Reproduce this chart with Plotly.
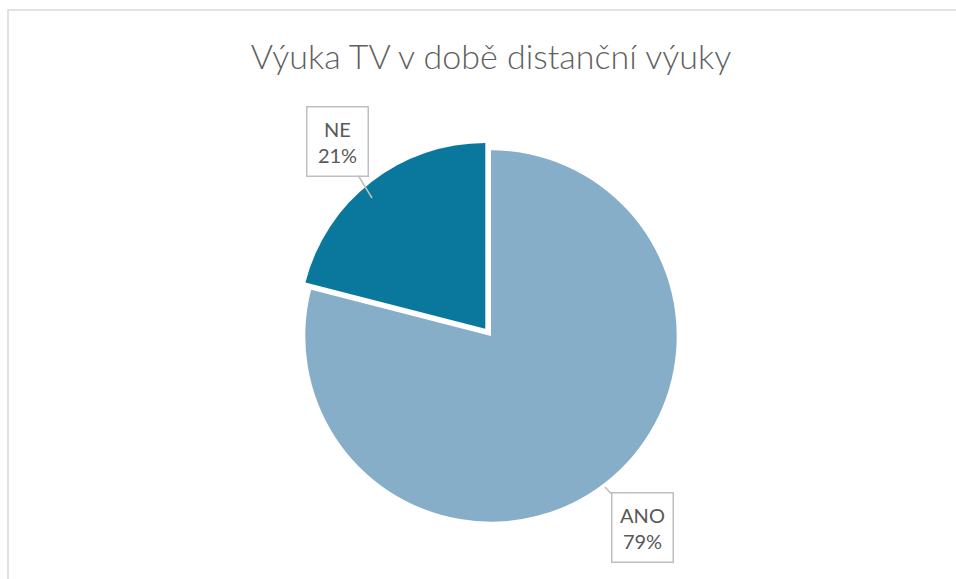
import plotly.graph_objects as go

# data
labels = ["ANO", "NE"]
values = [79, 21]
colors = ["#87AEC9", "#0A789D"]
pulls = [0, 0.05]
title_text = "Výuka TV v době distanční výuky"

W, H = 956, 579

def px_x(v):
    return v / W

def px_y(v):
    return 1 - v / H

total = sum(values)
pcts = [round(v / total * 100) for v in values]

fig = go.Figure()
fig.add_trace(go.Pie(
    labels=labels,
    values=values,
    sort=False,
    direction="clockwise",
    rotation=0,
    pull=pulls,
    marker=dict(colors=colors, line=dict(color="white", width=0)),
    textinfo="none",
    hoverinfo="label+percent",
    showlegend=False,
    domain=dict(x=[px_x(296), px_x(686)], y=[px_y(531), px_y(141)]),
))

# callout labels (tip position, text offset)
callouts = {
    "NE": dict(tip=(372, 198), ax=-35, ay=-57),
    "ANO": dict(tip=(605, 487), ax=37, ay=40),
}
for lab, pct in zip(labels, pcts):
    c = callouts[lab]
    fig.add_annotation(
        x=px_x(c["tip"][0]), y=px_y(c["tip"][1]),
        xref="paper", yref="paper",
        text=f"{lab}<br>{pct}%",
        showarrow=True, arrowhead=0, arrowwidth=1.5, arrowcolor="#BFBFBF",
        ax=c["ax"], ay=c["ay"],
        font=dict(family="Lato", size=20, color="#595959"),
        bordercolor="#BFBFBF", borderwidth=1.5, borderpad=2,
        bgcolor="white", width=56, height=64,
    )

# chart border
fig.add_shape(
    type="rect", xref="paper", yref="paper",
    x0=px_x(8), x1=1.05, y0=-0.05, y1=px_y(10),
    line=dict(color="#D9D9D9", width=1.5),
)

fig.update_layout(
    width=W, height=H,
    margin=dict(l=0, r=0, t=0, b=0),
    paper_bgcolor="white",
    plot_bgcolor="white",
    title=dict(
        text=title_text,
        x=px_x(491), xanchor="center",
        y=px_y(57), yanchor="middle",
        font=dict(family="Lato", size=34, color="#5F5F5F", weight=300),
    ),
)

fig.write_html(
    "out.html",
    config={"displayModeBar": False},
    post_script="document.body.style.margin='0';",
)
